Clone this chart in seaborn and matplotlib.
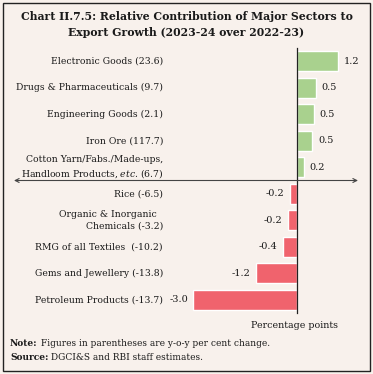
import matplotlib
matplotlib.use("Agg")
import matplotlib.pyplot as plt
import matplotlib.transforms as mtrans
from matplotlib.patches import Rectangle
import seaborn as sns
import pandas as pd
import numpy as np

categories = [
    "Electronic Goods (23.6)",
    "Drugs & Pharmaceuticals (9.7)",
    "Engineering Goods (2.1)",
    "Iron Ore (117.7)",
    "Cotton Yarn/Fabs./Made-ups,\nHandloom Products, $\\it{etc}$. (6.7)",
    "Rice (-6.5)",
    "Organic & Inorganic  \nChemicals (-3.2)",
    "RMG of all Textiles  (-10.2)",
    "Gems and Jewellery (-13.8)",
    "Petroleum Products (-13.7)",
]
values = [1.2, 0.55, 0.5, 0.45, 0.2, -0.2, -0.25, -0.4, -1.2, -3.0]
value_labels = ["1.2", "0.5", "0.5", "0.5", "0.2", "-0.2", "-0.2", "-0.4", "-1.2", "-3.0"]

BG = "#f8f1ec"
GREEN = "#a9d18e"
RED = "#f0636d"

df = pd.DataFrame({"cat": list(range(len(categories))), "val": values})
df["sign"] = np.where(df["val"] >= 0, "pos", "neg")

sns.set_style("white")
plt.rcParams["font.family"] = ["DejaVu Serif"]
plt.rcParams["mathtext.fontset"] = "dejavuserif"

fig = plt.figure(figsize=(3.73, 3.74), dpi=100, facecolor=BG)
W, H = 373, 374
ax = fig.add_axes([14 / W, 1 - 313 / H, 344 / W, 265 / H])
ax.set_facecolor(BG)

sns.barplot(data=df, x="val", y="cat", hue="sign", orient="h",
            palette={"pos": GREEN, "neg": RED}, saturation=1,
            width=0.75, legend=False, ax=ax, native_scale=True)

ax.set_xlim(-8.2, 1.77)
ax.set_ylim(9.5, -0.5)
for s in ["top", "right", "bottom"]:
    ax.spines[s].set_visible(False)
ax.spines["left"].set_position(("data", 0))
ax.spines["left"].set_color("#222222")
ax.spines["left"].set_linewidth(0.9)
ax.set_xticks([])
ax.set_yticks([])
ax.set_yticks(np.arange(-0.5, 10, 1.0), minor=True)
ax.tick_params(axis="y", which="minor", direction="out", length=3, width=0.9, color="#222222")
ax.set_xlabel("")
ax.set_ylabel("")

# horizontal axis with arrows between positive and negative groups
ax.annotate("", xy=(ax.get_xlim()[0], 4.5), xytext=(ax.get_xlim()[1], 4.5),
            arrowprops=dict(arrowstyle="<->", color="#444444", lw=0.8,
                            shrinkA=0, shrinkB=0, mutation_scale=7),
            annotation_clip=False)

# category labels
trans = mtrans.blended_transform_factory(fig.transFigure, ax.transData)
for i, c in enumerate(categories):
    ax.text(163 / W, i, c, transform=trans, ha="right", va="center",
            fontsize=6.7, color="#1a1a1a", linespacing=1.3)

# value labels
for i, (v, lab) in enumerate(zip(values, value_labels)):
    if v >= 0:
        ax.annotate(lab, xy=(v, i), xytext=(4, 0), textcoords="offset points",
                    ha="left", va="center", fontsize=7, color="#1a1a1a",
                    annotation_clip=False)
    else:
        ax.annotate(lab, xy=(v, i), xytext=(-4, 0), textcoords="offset points",
                    ha="right", va="center", fontsize=7, color="#1a1a1a",
                    annotation_clip=False)

# title
fig.text(0.5, 1 - 17 / H, "Chart II.7.5: Relative Contribution of Major Sectors to",
         ha="center", va="center", fontsize=7.8, fontweight="bold", color="#1a1a1a")
fig.text(0.5, 1 - 33 / H, "Export Growth (2023-24 over 2022-23)",
         ha="center", va="center", fontsize=7.8, fontweight="bold", color="#1a1a1a")

fig.text(338 / W, 1 - 326 / H, "Percentage points", ha="right", va="center",
         fontsize=6.8, color="#1a1a1a")

t1 = fig.text(10 / W, 1 - 344 / H, "Note:", ha="left", va="center",
              fontsize=6.5, fontweight="bold", color="#1a1a1a")
ax.annotate(" Figures in parentheses are y-o-y per cent change.", xy=(1, 0.5),
            xycoords=t1, ha="left", va="center", fontsize=6.5, color="#1a1a1a",
            annotation_clip=False)
t2 = fig.text(10 / W, 1 - 357 / H, "Source:", ha="left", va="center",
              fontsize=6.5, fontweight="bold", color="#1a1a1a")
ax.annotate(" DGCI&S and RBI staff estimates.", xy=(1, 0.5),
            xycoords=t2, ha="left", va="center", fontsize=6.5, color="#1a1a1a",
            annotation_clip=False)

fig.patches.append(Rectangle((3 / W, 3 / H), 367 / W, 368 / H, transform=fig.transFigure,
                             fill=False, edgecolor="#222222", lw=1.0))

fig.savefig("out.png", dpi=100, facecolor=BG)
